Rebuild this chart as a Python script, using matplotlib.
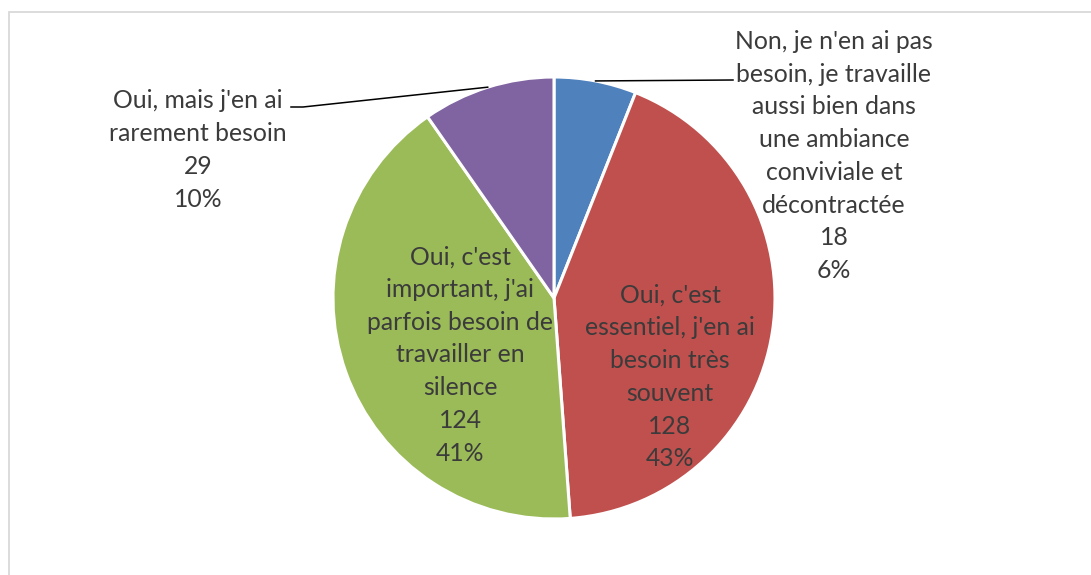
import numpy as np
import matplotlib.pyplot as plt
from matplotlib.patches import Rectangle

labels = ["Non, je n'en ai pas\nbesoin, je travaille\naussi bien dans\nune ambiance\nconviviale et\ndécontractée",
          "Oui, c'est\nessentiel, j'en ai\nbesoin très\nsouvent",
          "Oui, c'est\nimportant, j'ai\nparfois besoin de\ntravailler en\nsilence",
          "Oui, mais j'en ai\nrarement besoin"]
counts = [18, 128, 124, 29]
colors = ["#4F81BD", "#C0504D", "#9BBB59", "#8064A2"]

# label centres in pixel coords (y from top)
label_pos = [(834, 156), (670, 377), (460, 355), (198, 150)]

W, H = 1091, 575
cx, cy, R = 554, 298, 221
txt_color = "#3b3b3b"
plt.rcParams['font.family'] = ['Lato', 'DejaVu Sans']

fig = plt.figure(figsize=(W / 100, H / 100), dpi=100)
ax = fig.add_axes([0, 0, 1, 1])

ax.pie(counts, colors=colors, startangle=90, counterclock=False,
       center=(cx, H - cy), radius=R,
       wedgeprops=dict(edgecolor="white", linewidth=2.2))
ax.set_xlim(0, W)
ax.set_ylim(0, H)
ax.axis('off')

total = sum(counts)
for lab, n, (lx, ly) in zip(labels, counts, label_pos):
    s = lab + "\n%d\n%d%%" % (n, round(100 * n / total))
    ax.text(lx, H - ly, s, ha='center', va='center', fontsize=17.8,
            color=txt_color, linespacing=1.51)

# leader lines for the two outside labels
cum = np.cumsum([0] + counts)
mids = [90 - 360 * (cum[i] + counts[i] / 2) / total for i in range(len(counts))]

def edge_pt(i):
    a = np.radians(mids[i])
    return cx + R * np.cos(a), H - (cy - R * np.sin(a))

x0, y0 = edge_pt(0)
ax.plot([x0, 733], [y0, H - 80], color="black", lw=1.1)
x3, y3 = edge_pt(3)
ax.plot([x3, 303, 291], [y3, H - 107, H - 107], color="black", lw=1.1)

fig.patches.append(Rectangle((9, -10), W + 20, H - 12 + 10, transform=None,
                             fill=False, edgecolor="#D9D9D9", lw=1.3))

fig.savefig("out.png", dpi=100)
